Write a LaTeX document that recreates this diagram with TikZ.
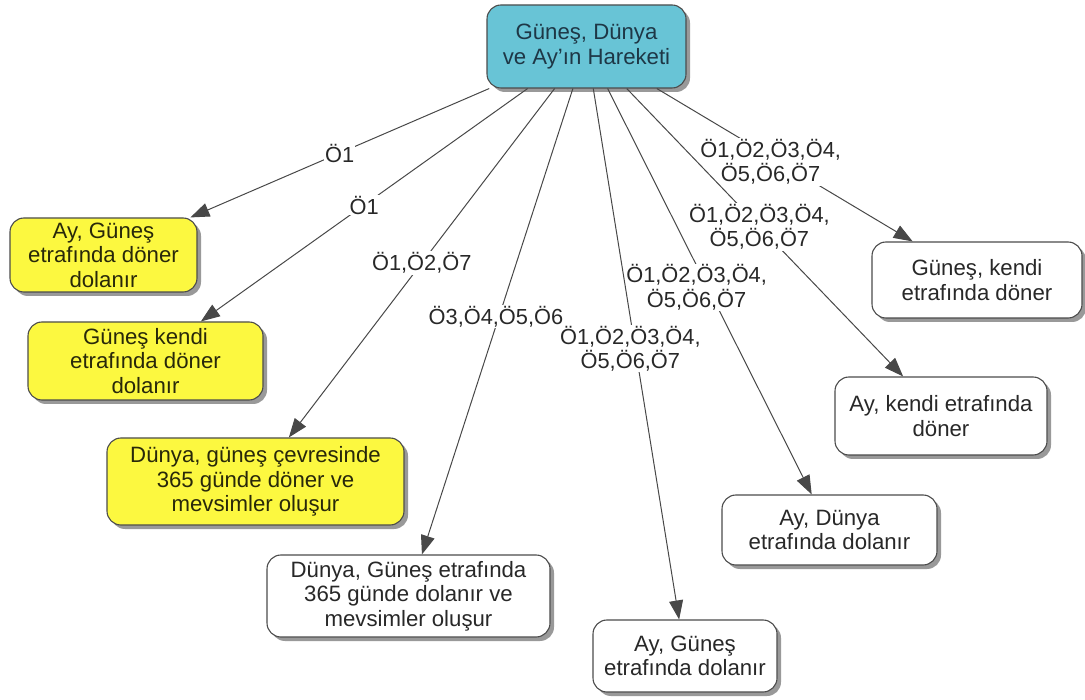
\documentclass[tikz,border=0pt]{standalone}
\usepackage{fontspec}
\setmainfont{Liberation Sans}
\usetikzlibrary{arrows.meta,shadows}
\definecolor{rootfill}{RGB}{104,196,214}
\definecolor{topicyellow}{RGB}{252,248,64}
\definecolor{edgegray}{RGB}{72,72,72}
\definecolor{textgray}{RGB}{40,40,40}
\begin{document}
\begin{tikzpicture}[x=1pt,y=-1pt,>={Triangle[length=19pt,width=14pt]},font=\fontsize{22.2}{24.5}\selectfont,
	topic/.style={draw=black!70,line width=1.1pt,rounded corners=14pt,align=center,inner sep=2pt,text=textgray,
		drop shadow={shadow xshift=4pt,shadow yshift=-4pt,fill=black!40,opacity=1}},
	rootbox/.style={topic,fill=rootfill,text={rgb,255:red,30;green,55;blue,70}},
	yellowbox/.style={topic,fill=topicyellow,text={rgb,255:red,40;green,40;blue,10}},
	whitebox/.style={topic,fill=white},
	link/.style={->,draw=edgegray,line width=1pt},
	lbl/.style={fill=white,inner sep=1pt,align=center,text=textgray,font=\fontsize{21.8}{24.5}\selectfont}]
	\useasboundingbox (0,0) rectangle (1085,700);
	% ana konu
	\node[rootbox,minimum width=199pt,minimum height=83pt] (root) at (586.5,46.5) {Güneş, Dünya\\ve Ay'ın Hareketi};
	% kazanımlar
	\node[yellowbox,minimum width=187pt,minimum height=74pt] (aygunesdon) at (103.5,255) {Ay, Güneş\\etrafında döner\\dolanır};
	\node[yellowbox,minimum width=235pt,minimum height=78pt] (guneskendidon) at (145.5,361) {Güneş kendi\\etrafında döner\\dolanır};
	\node[yellowbox,minimum width=297pt,minimum height=87pt] (dunyacevre) at (255.5,481.5) {Dünya, güneş çevresinde\\365 günde döner ve\\mevsimler oluşur};
	\node[whitebox,minimum width=283pt,minimum height=82pt] (dunyagunes) at (408.5,596) {Dünya, Güneş etrafında\\365 günde dolanır ve\\mevsimler oluşur};
	\node[whitebox,minimum width=184pt,minimum height=72pt] (aygunes) at (685,656) {Ay, Güneş\\etrafında dolanır};
	\node[whitebox,minimum width=215pt,minimum height=70pt] (aydunya) at (829.5,530) {Ay, Dünya\\etrafında dolanır};
	\node[whitebox,minimum width=212pt,minimum height=78pt] (aykendi) at (941,416) {Ay, kendi etrafında\\döner};
	\node[whitebox,minimum width=210pt,minimum height=76pt] (guneskendi) at (977,280) {Güneş, kendi\\etrafında döner};
	% bağlantılar
	\draw[link] (root) -- node[lbl,pos=.48,xshift=-9pt]{Ö1,Ö2,Ö3,Ö4,\\Ö5,Ö6,Ö7} (guneskendi);
	\draw[link] (root) -- node[lbl,pos=.48]{Ö1,Ö2,Ö3,Ö4,\\Ö5,Ö6,Ö7} (aykendi);
	\draw[link] (root) -- node[lbl,pos=.49,xshift=-11pt]{Ö1,Ö2,Ö3,Ö4,\\Ö5,Ö6,Ö7} (aydunya);
	\draw[link] (root) -- node[lbl,pos=.49,xshift=-5pt]{Ö1,Ö2,Ö3,Ö4,\\Ö5,Ö6,Ö7} (aygunes);
	\draw[link] (root) -- node[lbl,pos=.49,xshift=-3pt]{Ö3,Ö4,Ö5,Ö6} (dunyagunes);
	\draw[link] (root) -- node[lbl,pos=.5]{Ö1,Ö2,Ö7} (dunyacevre);
	\draw[link] (root) -- node[lbl,pos=.5]{Ö1} (guneskendidon);
	\draw[link] (root) -- node[lbl,pos=.5]{Ö1} (aygunesdon);
\end{tikzpicture}
\end{document}
